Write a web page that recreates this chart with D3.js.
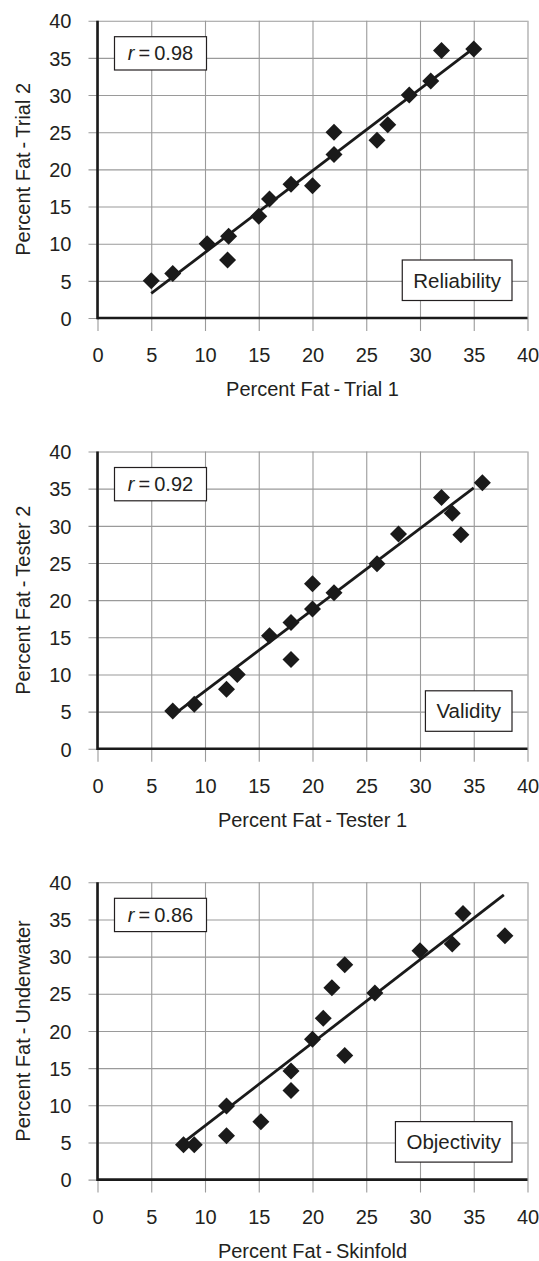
<!DOCTYPE html>
<html>
<head>
<meta charset="utf-8">
<script src="https://cdn.jsdelivr.net/npm/d3@7"></script>
<style>
  body { margin: 0; background: #fff; }
  svg text { font-family: "Liberation Sans", Arial, Helvetica, sans-serif; fill: #231f20; }
</style>
</head>
<body>
<svg id="chart" width="539" height="1261"></svg>
<script>
// Tick values (same on both axes of every panel)
const ticks = [0, 5, 10, 15, 20, 25, 30, 35, 40];

// Panel texts
const panelNames = ["Reliability", "Validity", "Objectivity"];
const rValues = ["0.98", "0.92", "0.86"];
const xTitles = ["Percent Fat\u2009-\u2009Trial 1", "Percent Fat\u2009-\u2009Tester 1", "Percent Fat\u2009-\u2009Skinfold"];
const yTitles = ["Percent Fat\u2009-\u2009Trial 2", "Percent Fat\u2009-\u2009Tester 2", "Percent Fat\u2009-\u2009Underwater"];

// Reliability: trial 1 vs trial 2
const reliabilityX = [5, 7, 10.2, 12.2, 12.1, 15, 16, 18, 20, 22, 22, 26, 27, 29, 31, 32, 35];
const reliabilityY = [5, 6, 10, 11, 7.8, 13.7, 16, 18, 17.8, 22, 25, 23.9, 26, 30, 31.9, 36, 36.2];

// Validity: tester 1 vs tester 2
const validityX = [7, 9, 12, 13, 16, 18, 18, 20, 20, 22, 26, 28, 32, 33, 33.8, 35.8];
const validityY = [5.1, 6, 8, 10, 15.2, 17, 12, 18.8, 22.2, 21, 24.9, 28.9, 33.8, 31.7, 28.8, 35.8];

// Objectivity: skinfold vs underwater
const objectivityX = [8, 9, 12, 12, 15.2, 18, 18, 20, 21, 21.8, 23, 23, 25.8, 30, 33, 34, 37.9];
const objectivityY = [4.7, 4.7, 9.9, 5.9, 7.8, 14.6, 12, 18.9, 21.7, 25.8, 28.9, 16.7, 25.1, 30.8, 31.7, 35.8, 32.8];

// Trend line ends
const fitX = [[5, 35], [7.1, 35], [8, 37.8]];
const fitY = [[3.3, 36.3], [4.6, 35.1], [5.0, 38.3]];

const seriesX = [reliabilityX, validityX, objectivityX];
const seriesY = [reliabilityY, validityY, objectivityY];

const svg = d3.select("#chart");
const width = 430;
const height = 297.3;
const left = 97.5;
const firstTop = 20.7;
const step = 430.8;

// filled diamond (square on its corner)
const diamond = {
  draw(ctx, size) {
    const r = Math.sqrt(size / 2);
    ctx.moveTo(0, -r);
    ctx.lineTo(r, 0);
    ctx.lineTo(0, r);
    ctx.lineTo(-r, 0);
    ctx.closePath();
  },
};

panelNames.forEach((name, i) => {
  const g = svg
    .append("g")
    .attr("transform", `translate(${left},${firstTop + i * step})`);

  const x = d3.scaleLinear().domain([0, 40]).range([0, width]);
  const y = d3.scaleLinear().domain([0, 40]).range([height, 0]);

  // vertical grid + x tick labels
  g.append("g")
    .attr("transform", `translate(0,${height})`)
    .call(d3.axisBottom(x).tickValues(ticks).tickSize(13))
    .call((ax) => ax.select(".domain").remove())
    .call((ax) =>
      ax.selectAll(".tick line").attr("y1", -height).attr("stroke", "#9a9a9a").attr("stroke-width", 1.1)
    )
    .call((ax) =>
      ax.selectAll(".tick text")
        .attr("y", 44)
        .attr("dy", null)
        .attr("font-size", 20)
        .attr("fill", null)
    );

  // horizontal grid + y tick labels
  g.append("g")
    .call(d3.axisLeft(y).tickValues(ticks).tickSize(9))
    .call((ax) => ax.select(".domain").remove())
    .call((ax) =>
      ax.selectAll(".tick line").attr("x1", width).attr("stroke", "#9a9a9a").attr("stroke-width", 1.1)
    )
    .call((ax) =>
      ax.selectAll(".tick text")
        .attr("x", -26)
        .attr("dy", "0.36em")
        .attr("font-size", 20)
        .attr("fill", null)
    );

  // axis lines
  g.append("line")
    .attr("x1", x(0)).attr("x2", x(40))
    .attr("y1", y(0)).attr("y2", y(0))
    .attr("stroke", "#1a1a1a").attr("stroke-width", 2.6);
  g.append("line")
    .attr("x1", x(0)).attr("x2", x(0))
    .attr("y1", y(0) + 1.3).attr("y2", y(40))
    .attr("stroke", "#1a1a1a").attr("stroke-width", 2.6);

  // trend line
  const fit = d3.zip(fitX[i], fitY[i]);
  g.append("path")
    .datum(fit)
    .attr("fill", "none")
    .attr("stroke", "#1a1a1a")
    .attr("stroke-width", 2.8)
    .attr("d", d3.line().x((d) => x(d[0])).y((d) => y(d[1])));

  // points
  const pts = d3.zip(seriesX[i], seriesY[i]);
  g.selectAll("path.pt")
    .data(pts)
    .join("path")
    .attr("class", "pt")
    .attr("fill", "#1a1a1a")
    .attr("transform", (d) => `translate(${x(d[0])},${y(d[1])})`)
    .attr("d", d3.symbol(diamond, 2 * 8.5 * 8.5));

  // r box
  const rBox = g.append("g").attr("transform", "translate(17,16)");
  rBox.append("rect")
    .attr("width", 92).attr("height", 33.3)
    .attr("fill", "#fff").attr("stroke", "#231f20").attr("stroke-width", 1.2);
  const rText = rBox.append("text")
    .attr("x", 46).attr("y", 23.5)
    .attr("text-anchor", "middle")
    .attr("font-size", 20);
  rText.append("tspan").attr("font-style", "italic").text("r");
  rText.append("tspan").text("\u2009=\u20090." + rValues[i].split(".")[1]);

  // panel label box, bottom right
  const lab = g.append("g");
  const labText = lab.append("text")
    .attr("font-size", 20.5)
    .attr("text-anchor", "end")
    .text(name);
  const tw = labText.node().getComputedTextLength();
  const bw = tw + 22;
  const bh = 40.5;
  const bx = 414.5 - bw;
  const by = height - 17.5 - bh;
  lab.insert("rect", "text")
    .attr("x", bx).attr("y", by)
    .attr("width", bw).attr("height", bh)
    .attr("fill", "#fff").attr("stroke", "#231f20").attr("stroke-width", 1.2);
  labText.attr("x", bx + bw - 11).attr("y", by + bh / 2 + 7.4);

  // axis titles
  g.append("text")
    .attr("x", width / 2).attr("y", height + 78)
    .attr("text-anchor", "middle")
    .attr("font-size", 20)
    .text(xTitles[i]);
  g.append("text")
    .attr("transform", `translate(-68,${height / 2}) rotate(-90)`)
    .attr("text-anchor", "middle")
    .attr("font-size", 20)
    .text(yTitles[i]);
});
</script>
</body>
</html>
